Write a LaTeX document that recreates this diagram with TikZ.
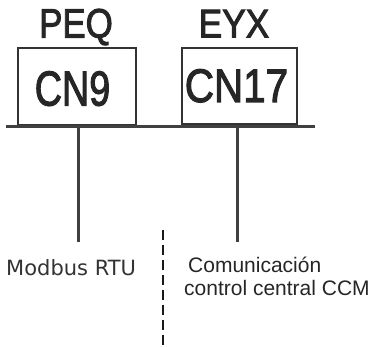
\documentclass[tikz,border=0pt]{standalone}
\usepackage{fontspec}
\setmainfont{Liberation Sans}
\newfontfamily\djv{DejaVu Sans}
\newfontfamily\topfont[FakeBold=2.5]{Liberation Sans}
\begin{document}
\begin{tikzpicture}[x=1pt,y=-1pt,
  boxst/.style={draw=black!80, line width=2pt, inner sep=0pt},
  lbl/.style={inner sep=0pt, anchor=base, text=black!85},
  wire/.style={draw=black!75, line width=3pt},
  sep/.style={draw=black!90, line width=2pt, dash pattern=on 10pt off 5pt}]
\useasboundingbox (0,0) rectangle (376,347);
% boxes
\node[boxst, minimum width=118pt, minimum height=77pt] (b1) at (77,86.5) {};
\node[boxst, minimum width=115pt, minimum height=76pt] (b2) at (239.5,86) {};
% labels
\node[lbl, font=\topfont\fontsize{41}{41}\selectfont, xscale=0.85] (peq) at (76,37.5) {PEQ};
\node[lbl, font=\topfont\fontsize{40}{40}\selectfont, xscale=0.88] (eyx) at (234,37.5) {EYX};
\node[lbl, font=\topfont\fontsize{49}{49}\selectfont, xscale=0.77] (cn9) at (72.5,105.5) {CN9};
\node[lbl, font=\topfont\fontsize{47}{47}\selectfont, xscale=0.86] (cn17) at (236.5,102) {CN17};
% bus
\coordinate (busL) at (6,127);
\coordinate (busR) at (315,127);
\draw[wire] (busL) -- (busR);
\coordinate (t1) at (78,127);
\coordinate (e1) at (78,242);
\coordinate (t2) at (237,127);
\coordinate (e2) at (237,242);
\draw[wire] (t1) -- (e1);
\draw[wire] (t2) -- (e2);
% separator
\coordinate (s1) at (163,230);
\coordinate (s2) at (163,345);
\draw[sep] (s1) -- (s2);
% bottom texts
\node[lbl, anchor=base west, font=\djv\fontsize{21}{21}\selectfont, text=black!80] (mb) at (6,276) {Modbus RTU};
\node[lbl, anchor=base west, font=\fontsize{21}{21}\selectfont, text=black!85] (c1) at (188,273) {Comunicación};
\node[lbl, anchor=base west, font=\fontsize{21}{21}\selectfont, text=black!85] (c2) at (184,296) {control central CCM};
\end{tikzpicture}
\end{document}
